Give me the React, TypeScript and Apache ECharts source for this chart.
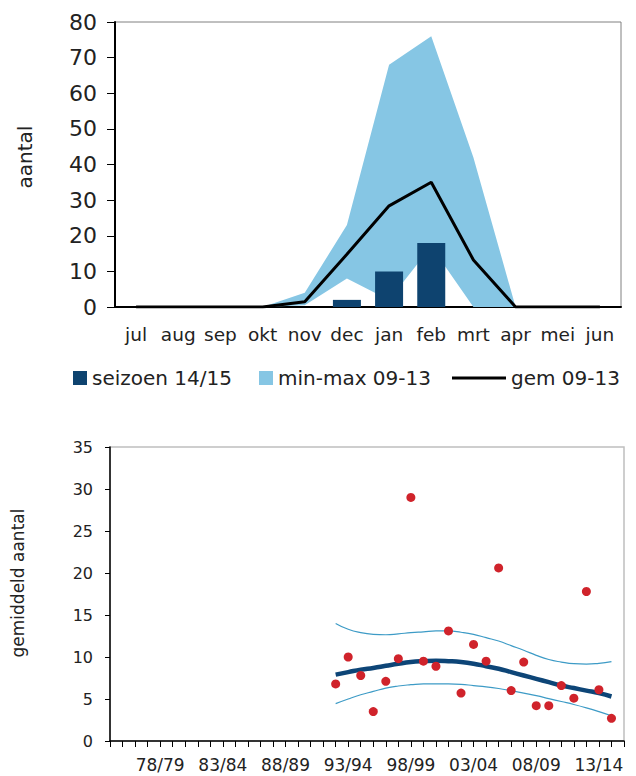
import React, { useEffect, useRef } from "react";
import * as echarts from "echarts";

// ---------- top chart data ----------
const months = ["jul", "aug", "sep", "okt", "nov", "dec", "jan", "feb", "mrt", "apr", "mei", "jun"];
const season1415 = [0, 0, 0, 0, 0, 2, 10, 18, 0, 0, 0, 0];
const min0913 = [0, 0, 0, 0, 0.5, 8, 2, 17, 0, 0, 0, 0];
const max0913 = [0, 0, 0, 0, 4, 23, 68, 76, 42, 0, 0, 0];
const gem0913 = [0, 0, 0, 0, 1.5, 14.8, 28.4, 35, 13.2, 0, 0, 0];

// ---------- bottom chart data ----------
const seasons = [
  "74/75", "75/76", "76/77", "77/78", "78/79", "79/80", "80/81", "81/82", "82/83", "83/84",
  "84/85", "85/86", "86/87", "87/88", "88/89", "89/90", "90/91", "91/92", "92/93", "93/94",
  "94/95", "95/96", "96/97", "97/98", "98/99", "99/00", "00/01", "01/02", "02/03", "03/04",
  "04/05", "05/06", "06/07", "07/08", "08/09", "09/10", "10/11", "11/12", "12/13", "13/14",
  "14/15", "15/16",
];
const firstCountedSeason = "92/93";
const avgCount = [6.8, 10.0, 7.8, 3.5, 7.1, 9.8, 29.0, 9.5, 8.9, 13.1, 5.7, 11.5, 9.5, 20.6, 6.0, 9.4, 4.2, 4.2, 6.6, 5.1, 17.8, 6.1, 2.7];
const trend = [7.9, 8.2, 8.5, 8.7, 8.95, 9.2, 9.4, 9.5, 9.55, 9.5, 9.4, 9.2, 8.9, 8.6, 8.2, 7.8, 7.4, 7.0, 6.6, 6.3, 6.0, 5.7, 5.3];
const upperBound = [14.0, 13.3, 12.9, 12.7, 12.65, 12.75, 12.9, 13.0, 13.1, 13.1, 12.95, 12.7, 12.3, 11.9, 11.35, 10.8, 10.2, 9.7, 9.4, 9.2, 9.15, 9.25, 9.45];
const lowerBound = [4.45, 5.0, 5.5, 5.9, 6.3, 6.55, 6.7, 6.8, 6.8, 6.8, 6.75, 6.6, 6.45, 6.25, 6.0, 5.7, 5.4, 5.05, 4.7, 4.35, 3.95, 3.5, 3.0];

const FONT = "DejaVu Sans";
const TXT = "#222222";
const DARK = "#0E436F";
const LIGHT = "#86C6E4";
const RED = "#D0232B";
const TREND = "#0D4577";
const CI = "#3D9BC6";

export default function App() {
  const ref = useRef<HTMLDivElement>(null);

  useEffect(() => {
    if (!ref.current) return;
    const chart = echarts.init(ref.current, null, { renderer: "svg" });

    const start = seasons.indexOf(firstCountedSeason);
    const pointSeasons = seasons.slice(start, start + avgCount.length);
    const pairs = (arr: number[]) => pointSeasons.map((s, i) => [s, arr[i]]);

    const option: any = {
      animation: false,
      backgroundColor: "#ffffff",
      textStyle: { fontFamily: FONT },
      grid: [
        { left: 115, top: 22, width: 506, height: 285, show: true, borderColor: "#808080", borderWidth: 1, backgroundColor: "transparent" },
        { left: 110, top: 447, width: 514, height: 294, show: true, borderColor: "#BFBFBF", borderWidth: 1.5, backgroundColor: "transparent" },
      ],
      xAxis: [
        {
          type: "category",
          gridIndex: 0,
          data: months,
          boundaryGap: true,
          axisLine: { lineStyle: { color: "#000", width: 2 } },
          axisTick: { length: 6, lineStyle: { color: "#000", width: 1 } },
          axisLabel: { interval: 0, fontSize: 18.5, color: TXT, margin: 18, fontFamily: FONT },
          splitLine: { show: false },
        },
        {
          type: "category",
          gridIndex: 1,
          data: seasons,
          boundaryGap: false,
          axisLine: { lineStyle: { color: "#000", width: 1.5 } },
          axisTick: { interval: 0, length: 6, lineStyle: { color: "#000", width: 1 } },
          axisLabel: {
            interval: (index: number) => index >= 4 && (index - 4) % 5 === 0,
            fontSize: 17,
            color: TXT,
            margin: 15,
            fontFamily: FONT,
          },
          splitLine: { show: false },
        },
      ],
      yAxis: [
        {
          type: "value",
          gridIndex: 0,
          min: 0,
          max: 80,
          interval: 10,
          axisLine: { show: true, lineStyle: { color: "#000", width: 2 } },
          axisTick: { show: true, length: 8, lineStyle: { color: "#000", width: 1 } },
          axisLabel: { fontSize: 22, color: TXT, margin: 18, fontFamily: FONT },
          splitLine: { show: false },
        },
        {
          type: "value",
          gridIndex: 1,
          min: 0,
          max: 35,
          interval: 5,
          axisLine: { show: true, lineStyle: { color: "#000", width: 1.5 } },
          axisTick: { show: true, length: 5, lineStyle: { color: "#000", width: 1 } },
          axisLabel: { fontSize: 16, color: TXT, margin: 17, fontFamily: FONT },
          splitLine: { show: false },
        },
      ],
      legend: [
        {
          left: 73, top: 368, padding: 0, itemWidth: 14, itemHeight: 14, selectedMode: false,
          data: [{ name: "seizoen 14/15", icon: "rect", itemStyle: { color: DARK } }],
          textStyle: { fontSize: 20, color: TXT, fontFamily: FONT },
        },
        {
          left: 259, top: 368, padding: 0, itemWidth: 14, itemHeight: 14, selectedMode: false,
          data: [{ name: "min-max 09-13", icon: "rect", itemStyle: { color: LIGHT } }],
          textStyle: { fontSize: 20, color: TXT, fontFamily: FONT },
        },
        {
          left: 452, top: 368, padding: 0, itemWidth: 54, itemHeight: 3, selectedMode: false,
          data: [{ name: "gem 09-13", icon: "rect", itemStyle: { color: "#000" } }],
          textStyle: { fontSize: 20, color: TXT, fontFamily: FONT },
        },
      ],
      graphic: [
        {
          type: "text", x: 25, y: 157, rotation: Math.PI / 2,
          style: { text: "aantal", fontSize: 20, fontFamily: FONT, fill: TXT, align: "center", verticalAlign: "middle" },
        },
        {
          type: "text", x: 18, y: 583, rotation: Math.PI / 2,
          style: { text: "gemiddeld aantal", fontSize: 17, fontFamily: FONT, fill: TXT, align: "center", verticalAlign: "middle" },
        },
      ],
      series: [
        {
          name: "_minBase", type: "line", xAxisIndex: 0, yAxisIndex: 0, stack: "band", z: 1,
          data: min0913, symbol: "none", lineStyle: { opacity: 0 }, silent: true,
        },
        {
          name: "min-max 09-13", type: "line", xAxisIndex: 0, yAxisIndex: 0, stack: "band", z: 1,
          data: max0913.map((v, i) => v - min0913[i]), symbol: "none",
          lineStyle: { opacity: 0 }, areaStyle: { color: LIGHT, opacity: 1 }, itemStyle: { color: LIGHT },
        },
        {
          name: "seizoen 14/15", type: "bar", xAxisIndex: 0, yAxisIndex: 0, z: 3,
          data: season1415, barWidth: 28, itemStyle: { color: DARK },
        },
        {
          name: "gem 09-13", type: "line", xAxisIndex: 0, yAxisIndex: 0, z: 4,
          data: gem0913, symbol: "none", lineStyle: { color: "#000", width: 3 }, itemStyle: { color: "#000" },
        },
        {
          name: "upper", type: "line", xAxisIndex: 1, yAxisIndex: 1, data: pairs(upperBound),
          smooth: true, symbol: "none", lineStyle: { color: CI, width: 1.2 },
        },
        {
          name: "lower", type: "line", xAxisIndex: 1, yAxisIndex: 1, data: pairs(lowerBound),
          smooth: true, symbol: "none", lineStyle: { color: CI, width: 1.2 },
        },
        {
          name: "trend", type: "line", xAxisIndex: 1, yAxisIndex: 1, data: pairs(trend),
          smooth: true, symbol: "none", lineStyle: { color: TREND, width: 4.5 },
        },
        {
          name: "gemiddeld aantal", type: "scatter", xAxisIndex: 1, yAxisIndex: 1, z: 5, data: pairs(avgCount),
          symbol: "circle", symbolSize: 9, itemStyle: { color: RED, opacity: 1 },
        },
      ],
    };

    chart.setOption(option);
    return () => chart.dispose();
  }, []);

  return (
    <div
      ref={ref}
      style={{ position: "fixed", left: 0, top: 0, width: 636, height: 776, background: "#fff" }}
    />
  );
}
